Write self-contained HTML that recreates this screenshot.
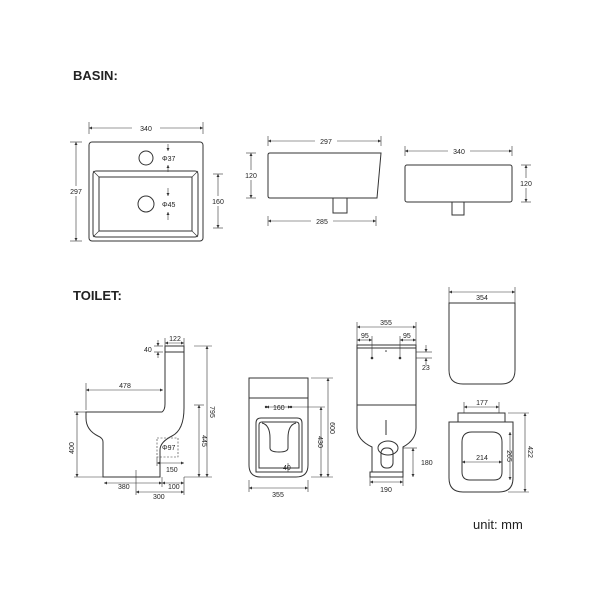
<!DOCTYPE html>
<html><head><meta charset="utf-8"><style>
html,body{margin:0;padding:0;background:#fff}
svg{display:block}
text{font-family:"Liberation Sans",sans-serif;fill:#222}
.t{font-size:7px}
.s{fill:none;stroke:#333;stroke-width:1}
.d{fill:none;stroke:#333;stroke-width:0.6}
</style></head><body>
<svg width="600" height="600" viewBox="0 0 600 600">
<defs>
<marker id="a" viewBox="0 0 6 6" refX="6" refY="3" markerWidth="5" markerHeight="5" orient="auto-start-reverse"><path d="M0,0L6,3L0,6z" fill="#333"/></marker>
</defs>
<g class="d" marker-start="url(#a)" marker-end="url(#a)">
</g>
<text x="73" y="80" style="font-size:13px;font-weight:bold">BASIN:</text>
<text x="73" y="300" style="font-size:13px;font-weight:bold">TOILET:</text>
<text x="473" y="529" style="font-size:13px">unit: mm</text>

<!-- Basin top -->
<rect class="s" x="89" y="142" width="114" height="99" rx="3"/>
<circle class="s" cx="146" cy="158" r="7"/>
<rect class="s" x="93" y="171" width="105" height="66" rx="3"/>
<rect class="s" x="99" y="177" width="93" height="54"/>
<line class="d" x1="93" y1="171" x2="99" y2="177"/><line class="d" x1="198" y1="171" x2="192" y2="177"/>
<line class="d" x1="93" y1="237" x2="99" y2="231"/><line class="d" x1="198" y1="237" x2="192" y2="231"/>
<circle class="s" cx="146" cy="204" r="8"/>
<line class="d" x1="89" y1="128" x2="203" y2="128" marker-start="url(#a)" marker-end="url(#a)"/>
<line class="d" x1="89" y1="122" x2="89" y2="134"/><line class="d" x1="203" y1="122" x2="203" y2="134"/>
<rect x="132" y="123" width="28" height="10" fill="#fff"/><text class="t" x="146" y="131" text-anchor="middle">340</text>
<line class="d" x1="76" y1="142" x2="76" y2="241" marker-start="url(#a)" marker-end="url(#a)"/>
<line class="d" x1="70" y1="142" x2="82" y2="142"/><line class="d" x1="70" y1="241" x2="82" y2="241"/>
<rect x="66" y="186" width="20" height="10" fill="#fff"/><text class="t" x="76" y="194" text-anchor="middle">297</text>
<line class="d" x1="168" y1="144" x2="168" y2="151" marker-end="url(#a)"/><line class="d" x1="168" y1="172" x2="168" y2="165" marker-end="url(#a)"/>
<text class="t" x="162" y="161">Φ37</text>
<line class="d" x1="168" y1="188" x2="168" y2="196" marker-end="url(#a)"/><line class="d" x1="168" y1="220" x2="168" y2="212" marker-end="url(#a)"/>
<text class="t" x="162" y="207">Φ45</text>
<line class="d" x1="218" y1="174" x2="218" y2="228" marker-start="url(#a)" marker-end="url(#a)"/>
<line class="d" x1="213" y1="174" x2="223" y2="174"/><line class="d" x1="213" y1="228" x2="223" y2="228"/>
<rect x="208" y="196" width="20" height="10" fill="#fff"/><text class="t" x="218" y="204" text-anchor="middle">160</text>

<!-- Basin side -->
<path class="s" d="M270,153H381L377,198H270Q268,198 268,196V155Q268,153 270,153Z"/>
<rect class="s" x="333" y="198" width="14" height="15"/>
<line class="d" x1="268" y1="141" x2="381" y2="141" marker-start="url(#a)" marker-end="url(#a)"/>
<line class="d" x1="268" y1="136" x2="268" y2="146"/><line class="d" x1="381" y1="136" x2="381" y2="146"/>
<rect x="315" y="136" width="22" height="10" fill="#fff"/><text class="t" x="326" y="144" text-anchor="middle">297</text>
<line class="d" x1="268" y1="221" x2="376" y2="221" marker-start="url(#a)" marker-end="url(#a)"/>
<line class="d" x1="268" y1="216" x2="268" y2="226"/><line class="d" x1="376" y1="216" x2="376" y2="226"/>
<rect x="311" y="216" width="22" height="10" fill="#fff"/><text class="t" x="322" y="224" text-anchor="middle">285</text>
<line class="d" x1="251" y1="153" x2="251" y2="198" marker-start="url(#a)" marker-end="url(#a)"/>
<line class="d" x1="246" y1="153" x2="256" y2="153"/><line class="d" x1="246" y1="198" x2="256" y2="198"/>
<rect x="241" y="170" width="20" height="10" fill="#fff"/><text class="t" x="251" y="178" text-anchor="middle">120</text>

<!-- Basin front -->
<rect class="s" x="405" y="165" width="107" height="37" rx="2"/>
<rect class="s" x="452" y="202" width="12" height="13"/>
<line class="d" x1="405" y1="151" x2="512" y2="151" marker-start="url(#a)" marker-end="url(#a)"/>
<line class="d" x1="405" y1="146" x2="405" y2="156"/><line class="d" x1="512" y1="146" x2="512" y2="156"/>
<rect x="448" y="146" width="22" height="10" fill="#fff"/><text class="t" x="459" y="154" text-anchor="middle">340</text>
<line class="d" x1="526" y1="165" x2="526" y2="202" marker-start="url(#a)" marker-end="url(#a)"/>
<line class="d" x1="521" y1="165" x2="531" y2="165"/><line class="d" x1="521" y1="202" x2="531" y2="202"/>
<rect x="516" y="178" width="20" height="10" fill="#fff"/><text class="t" x="526" y="186" text-anchor="middle">120</text>

<!-- Toilet side -->
<path class="s" d="M167,346H184V408Q184,430 172,436Q160,442 160,450V477H103V442Q103,438 98,436Q86,430 86,418V412H162Q165,410 165,404V346Z"/>
<line class="s" x1="165" y1="352" x2="184" y2="352"/>
<line class="d" x1="165" y1="343" x2="184" y2="343" marker-start="url(#a)" marker-end="url(#a)"/>
<line class="d" x1="165" y1="338" x2="165" y2="346"/><line class="d" x1="184" y1="338" x2="184" y2="346"/>
<text class="t" x="175" y="341" text-anchor="middle">122</text>
<line class="d" x1="158" y1="340" x2="158" y2="346" marker-end="url(#a)"/><line class="d" x1="158" y1="358" x2="158" y2="352" marker-end="url(#a)"/>
<line class="d" x1="154" y1="346" x2="163" y2="346"/><line class="d" x1="154" y1="352" x2="163" y2="352"/>
<text class="t" x="144" y="352">40</text>
<line class="d" x1="86" y1="390" x2="163" y2="390" marker-start="url(#a)" marker-end="url(#a)"/>
<line class="d" x1="86" y1="383" x2="86" y2="410"/>
<text class="t" x="125" y="388" text-anchor="middle">478</text>
<line class="d" x1="77" y1="412" x2="77" y2="477" marker-start="url(#a)" marker-end="url(#a)"/>
<line class="d" x1="74" y1="412" x2="86" y2="412"/><line class="d" x1="74" y1="477" x2="103" y2="477"/>
<text class="t" x="0" y="0" transform="translate(74,448) rotate(-90)" text-anchor="middle">400</text>
<line class="d" x1="199" y1="405" x2="199" y2="477" marker-start="url(#a)" marker-end="url(#a)"/>
<line class="d" x1="194" y1="405" x2="204" y2="405"/>
<line class="d" x1="207" y1="346" x2="207" y2="477" marker-start="url(#a)" marker-end="url(#a)"/>
<line class="d" x1="194" y1="346" x2="212" y2="346"/><line class="d" x1="184" y1="477" x2="212" y2="477"/>
<text class="t" transform="translate(202,441) rotate(90)" text-anchor="middle">445</text>
<text class="t" transform="translate(210,412) rotate(90)" text-anchor="middle">795</text>
<rect x="157" y="438" width="21" height="19" fill="none" stroke="#333" stroke-width="0.6" stroke-dasharray="2,1.5"/>
<text class="t" x="162" y="450">Φ97</text>
<line class="d" x1="157" y1="463" x2="184" y2="463" marker-start="url(#a)" marker-end="url(#a)"/>
<line class="d" x1="157" y1="457" x2="157" y2="466"/>
<text class="t" x="166" y="472">150</text>
<line class="d" x1="104" y1="483" x2="162" y2="483" marker-start="url(#a)" marker-end="url(#a)"/>
<text class="t" x="118" y="489">380</text>
<line class="d" x1="162" y1="483" x2="184" y2="483" marker-start="url(#a)" marker-end="url(#a)"/>
<line class="d" x1="162" y1="477" x2="162" y2="487"/><line class="d" x1="184" y1="477" x2="184" y2="495"/>
<text class="t" x="168" y="489">100</text>
<line class="d" x1="136" y1="470" x2="136" y2="495"/>
<line class="d" x1="136" y1="492" x2="184" y2="492" marker-start="url(#a)" marker-end="url(#a)"/>
<text class="t" x="153" y="499">300</text>

<!-- Toilet front -->
<path class="s" d="M249,378H308V465Q308,477 296,477H261Q249,477 249,465Z"/>
<line class="s" x1="249" y1="398" x2="308" y2="398"/>
<path class="s" d="M261,418H297Q302,418 302,423V472H256V423Q256,418 261,418Z"/>
<path class="s" d="M262,422H296Q299,422 299,425V468H259V425Q259,422 262,422Z"/>
<path class="s" d="M262,423Q270,425 270,438V448Q270,452 279,452Q288,452 288,448V438Q288,425 296,423"/>
<line class="d" x1="266" y1="407" x2="291" y2="407" marker-start="url(#a)" marker-end="url(#a)"/>
<circle cx="266" cy="407" r="1.2" fill="#333"/><circle cx="291" cy="407" r="1.2" fill="#333"/>
<text class="t" x="273" y="410">160</text>
<line class="d" x1="291" y1="407" x2="325" y2="407"/>
<line class="d" x1="321" y1="407" x2="321" y2="477" marker-start="url(#a)" marker-end="url(#a)"/>
<line class="d" x1="311" y1="378" x2="333" y2="378"/><line class="d" x1="311" y1="477" x2="333" y2="477"/>
<line class="d" x1="328" y1="378" x2="328" y2="477" marker-start="url(#a)" marker-end="url(#a)"/>
<text class="t" transform="translate(318,442) rotate(90)" text-anchor="middle">430</text>
<text class="t" transform="translate(330,428) rotate(90)" text-anchor="middle">600</text>
<line class="d" x1="288" y1="463" x2="288" y2="472"/>
<text class="t" x="283" y="470">40</text>
<line class="d" x1="249" y1="488" x2="308" y2="488" marker-start="url(#a)" marker-end="url(#a)"/>
<line class="d" x1="249" y1="480" x2="249" y2="492"/><line class="d" x1="308" y1="480" x2="308" y2="492"/>
<text class="t" x="278" y="497" text-anchor="middle">355</text>

<!-- Toilet back -->
<path class="s" d="M357,345H416V428Q416,440 403,447V472H372V447Q357,440 357,428Z"/>
<line class="s" x1="357" y1="348" x2="416" y2="348"/>
<line class="s" x1="357" y1="405" x2="416" y2="405"/>
<line class="s" x1="386" y1="420" x2="386" y2="435"/>
<ellipse class="s" cx="388" cy="448" rx="10" ry="7"/>
<rect class="s" x="381" y="448" width="12" height="20" rx="5"/>
<rect class="s" x="370" y="472" width="33" height="5"/>
<line class="d" x1="357" y1="327" x2="416" y2="327" marker-start="url(#a)" marker-end="url(#a)"/>
<line class="d" x1="357" y1="322" x2="357" y2="345"/><line class="d" x1="416" y1="322" x2="416" y2="345"/>
<text class="t" x="386" y="325" text-anchor="middle">355</text>
<line class="d" x1="357" y1="340" x2="372" y2="340" marker-start="url(#a)" marker-end="url(#a)"/>
<line class="d" x1="372" y1="336" x2="372" y2="358"/>
<text class="t" x="361" y="338">95</text>
<line class="d" x1="400" y1="340" x2="416" y2="340" marker-start="url(#a)" marker-end="url(#a)"/>
<line class="d" x1="400" y1="336" x2="400" y2="358"/>
<text class="t" x="403" y="338">95</text>
<circle cx="372" cy="358" r="1.3" fill="#333"/><circle cx="400" cy="358" r="1.3" fill="#333"/><circle cx="386" cy="351" r="0.8" fill="#333"/>
<line class="d" x1="416" y1="352" x2="432" y2="352"/><line class="d" x1="416" y1="358" x2="432" y2="358"/>
<line class="d" x1="426" y1="345" x2="426" y2="352" marker-end="url(#a)"/><line class="d" x1="426" y1="365" x2="426" y2="358" marker-end="url(#a)"/>
<text class="t" x="422" y="370">23</text>
<line class="d" x1="413" y1="448" x2="413" y2="477" marker-start="url(#a)" marker-end="url(#a)"/>
<line class="d" x1="403" y1="448" x2="417" y2="448"/>
<text class="t" x="421" y="465">180</text>
<line class="d" x1="370" y1="482" x2="403" y2="482" marker-start="url(#a)" marker-end="url(#a)"/>
<line class="d" x1="370" y1="477" x2="370" y2="486"/><line class="d" x1="403" y1="477" x2="403" y2="486"/>
<text class="t" x="386" y="492" text-anchor="middle">190</text>

<!-- Lid -->
<path class="s" d="M449,303H515V370Q515,384 501,384H463Q449,384 449,370Z"/>
<line class="d" x1="449" y1="292" x2="515" y2="292" marker-start="url(#a)" marker-end="url(#a)"/>
<line class="d" x1="449" y1="287" x2="449" y2="303"/><line class="d" x1="515" y1="287" x2="515" y2="303"/>
<text class="t" x="482" y="300" text-anchor="middle">354</text>

<!-- Seat -->
<rect class="s" x="458" y="413" width="47" height="9"/>
<path class="s" d="M449,422H513V478Q513,492 499,492H463Q449,492 449,478Z"/>
<path class="s" d="M472,432H492Q502,432 502,442V472Q502,480 494,480H470Q462,480 462,472V442Q462,432 472,432Z"/>
<line class="d" x1="464" y1="407" x2="499" y2="407" marker-start="url(#a)" marker-end="url(#a)"/>
<line class="d" x1="464" y1="402" x2="464" y2="413"/><line class="d" x1="499" y1="402" x2="499" y2="413"/>
<text class="t" x="482" y="405" text-anchor="middle">177</text>
<line class="d" x1="462" y1="462" x2="502" y2="462" marker-start="url(#a)" marker-end="url(#a)"/>
<text class="t" x="482" y="460" text-anchor="middle">214</text>
<line class="d" x1="510" y1="432" x2="510" y2="480" marker-start="url(#a)" marker-end="url(#a)"/>
<text class="t" transform="translate(507,456) rotate(90)" text-anchor="middle">265</text>
<line class="d" x1="508" y1="413" x2="529" y2="413"/><line class="d" x1="508" y1="492" x2="529" y2="492"/>
<line class="d" x1="525" y1="413" x2="525" y2="492" marker-start="url(#a)" marker-end="url(#a)"/>
<text class="t" transform="translate(528,452) rotate(90)" text-anchor="middle">422</text>
</svg>
</body></html>
